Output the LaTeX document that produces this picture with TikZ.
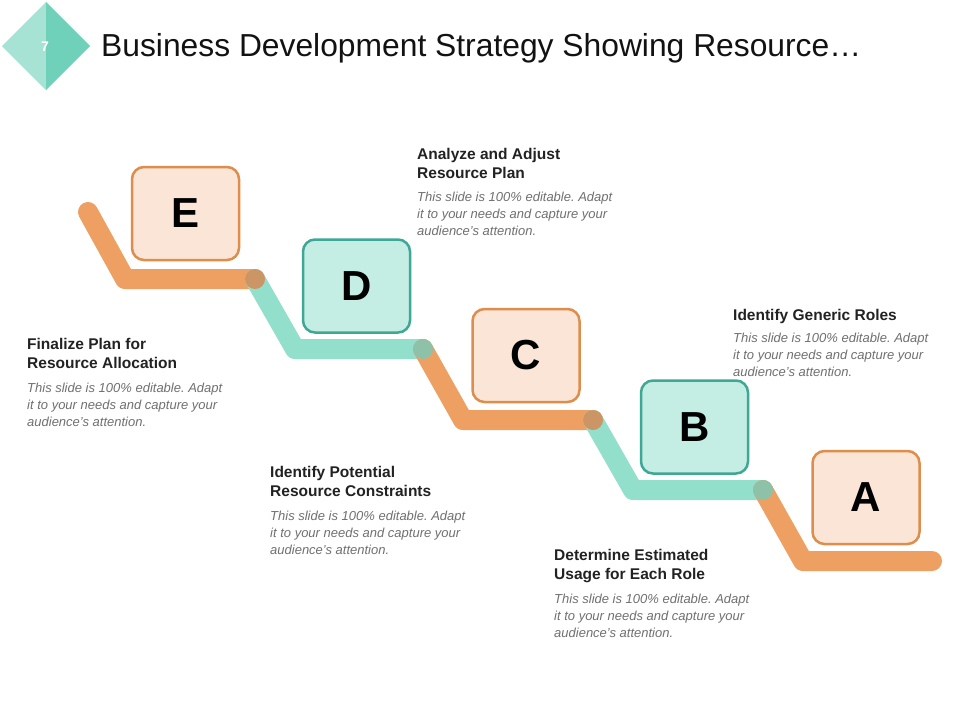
\documentclass[tikz,border=0pt]{standalone}
\usepackage{fontspec}
\setmainfont{Liberation Sans}
\frenchspacing
\definecolor{orLine}{HTML}{EE9F62}
\definecolor{tlLine}{HTML}{92DFCB}
\definecolor{orJoint}{HTML}{CC9566}
\definecolor{tlJoint}{HTML}{8DC2A9}
\definecolor{orFill}{HTML}{FBE5D6}
\definecolor{orDraw}{HTML}{DD8D4C}
\definecolor{tlFill}{HTML}{C4EDE3}
\definecolor{tlDraw}{HTML}{3FA796}
\definecolor{dmLight}{HTML}{A6E3D4}
\definecolor{dmDark}{HTML}{6FD1BA}
\definecolor{headCol}{HTML}{222222}
\definecolor{bodyCol}{HTML}{707070}
\begin{document}
\begin{tikzpicture}[x=1pt,y=-1pt,
  seg/.style={line width=20pt,line cap=round,line join=round},
  letterbox/.style={rounded corners=12pt,line width=2.5pt,minimum width=107pt,minimum height=93pt,inner sep=0pt,
     font=\fontsize{42}{42}\selectfont\bfseries,text=black},
  obox/.style={letterbox,fill=orFill,draw=orDraw},
  tbox/.style={letterbox,fill=tlFill,draw=tlDraw},
  head/.style={anchor=north west,inner sep=0pt,align=left,text=headCol,font=\fontsize{15.5}{19}\selectfont\bfseries},
  body/.style={anchor=north west,inner sep=0pt,align=left,text=bodyCol,font=\fontsize{13}{17}\selectfont\itshape}]
\useasboundingbox[fill=white] (0,0) rectangle (960,720);

% header diamond
\coordinate (dT) at (46,2);
\coordinate (dR) at (90,46);
\coordinate (dB) at (46,90);
\coordinate (dL) at (2,46);
\fill[dmLight] (dL) -- (dT) -- (dB) -- cycle;
\fill[dmDark] (dT) -- (dR) -- (dB) -- cycle;
\node[text=white,font=\fontsize{14}{14}\selectfont\bfseries] (num) at (45,47) {7};
\node[anchor=base west,inner sep=0pt,font=\fontsize{31.8}{38}\selectfont,text=black!93] (title) at (101,56)
  {Business Development Strategy Showing Resource…};

% stair path
\coordinate (s0) at (88,212);
\coordinate (c1) at (125,279);
\coordinate (j1) at (255,279);
\coordinate (c2) at (295,349);
\coordinate (j2) at (423,349);
\coordinate (c3) at (463,420);
\coordinate (j3) at (593,420);
\coordinate (c4) at (633,490);
\coordinate (j4) at (763,490);
\coordinate (c5) at (803,561);
\coordinate (s5) at (932,561);

\draw[seg,orLine] (s0) -- (c1) -- (j1);
\draw[seg,tlLine] (j1) -- (c2) -- (j2);
\draw[seg,orLine] (j2) -- (c3) -- (j3);
\draw[seg,tlLine] (j3) -- (c4) -- (j4);
\draw[seg,orLine] (j4) -- (c5) -- (s5);
\fill[orJoint] (j1) circle (10);
\fill[tlJoint] (j2) circle (10);
\fill[orJoint] (j3) circle (10);
\fill[tlJoint] (j4) circle (10);

% boxes
\node[obox] (E) at (185.5,213.5) {E};
\node[tbox] (D) at (356.5,286) {D};
\node[obox] (C) at (526,355.5) {C};
\node[tbox] (B) at (694.5,427) {B};
\node[obox] (A) at (866,497.5) {A};

% text blocks
\node[head] (h1) at (417,148) {Analyze and Adjust\\Resource Plan};
\node[body] (b1) at (417,192) {This slide is 100\% editable. Adapt\\it to your needs and capture your\\audience's attention.};

\node[head] (h2) at (733,309) {Identify Generic Roles};
\node[body] (b2) at (733,333) {This slide is 100\% editable. Adapt\\it to your needs and capture your\\audience's attention.};

\node[head] (h3) at (27,338) {Finalize Plan for\\Resource Allocation};
\node[body] (b3) at (27,383) {This slide is 100\% editable. Adapt\\it to your needs and capture your\\audience's attention.};

\node[head] (h4) at (270,466) {Identify Potential\\Resource Constraints};
\node[body] (b4) at (270,511) {This slide is 100\% editable. Adapt\\it to your needs and capture your\\audience's attention.};

\node[head] (h5) at (554,549) {Determine Estimated\\Usage for Each Role};
\node[body] (b5) at (554,594) {This slide is 100\% editable. Adapt\\it to your needs and capture your\\audience's attention.};
\end{tikzpicture}
\end{document}
